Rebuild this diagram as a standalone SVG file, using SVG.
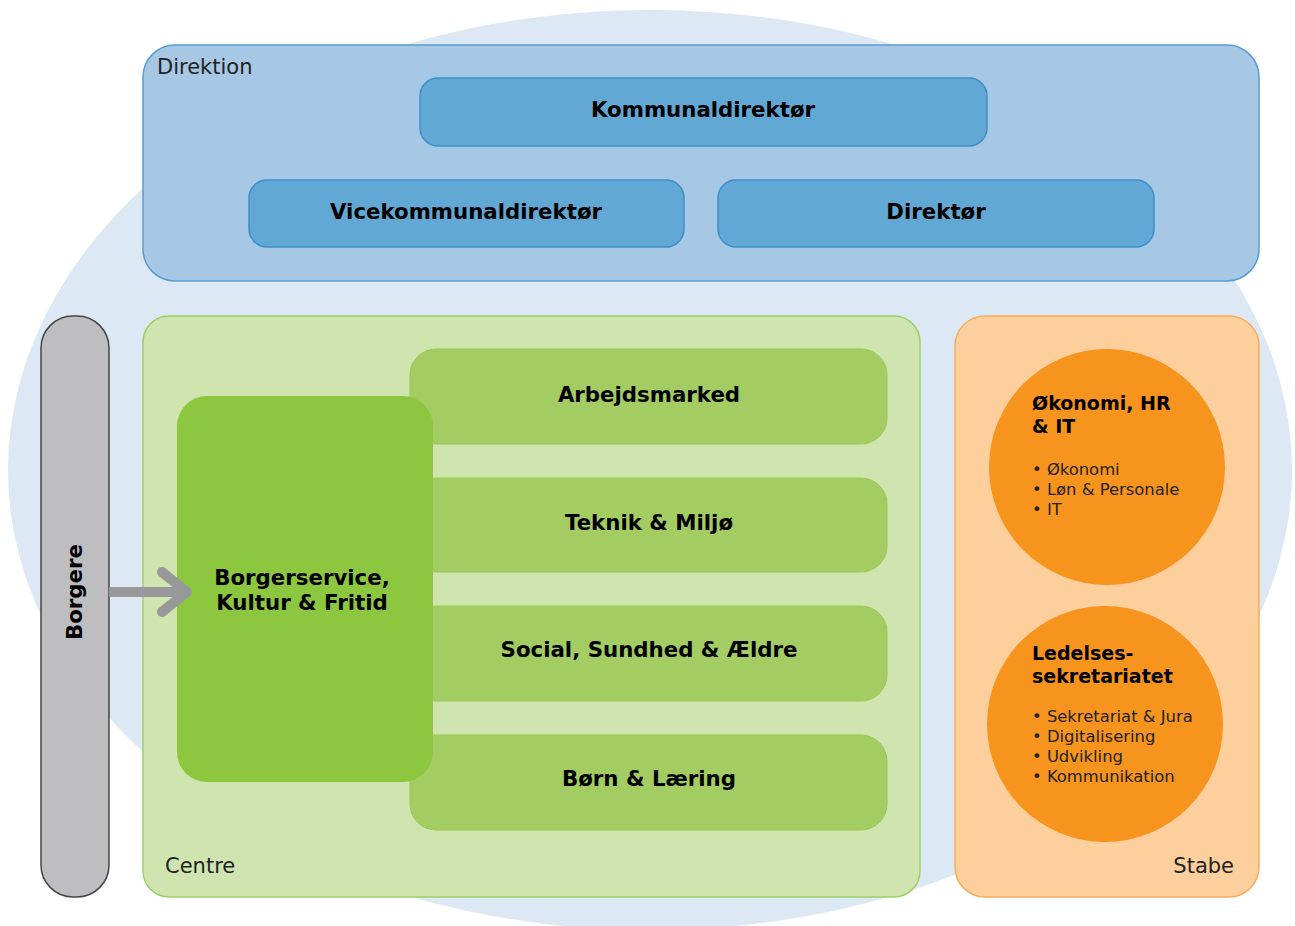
<svg xmlns="http://www.w3.org/2000/svg" width="1295" height="926" viewBox="0 0 1295 926">
<style>
text{font-family:"DejaVu Sans","Verdana",sans-serif;fill:#000}
.h{font-size:21.3px;font-weight:bold;text-anchor:middle}
.lbl{font-size:21px;fill:#222}
.dir{fill:#62a8d5;stroke:#3e8ec8;stroke-width:1.5}
.grn{fill:#a3cd62;stroke:#98c857;stroke-width:1}
.circ{fill:#f7941d}
.ct{font-size:19px;font-weight:bold}
.bl{font-size:16.4px;fill:#222}
</style>
<rect width="1295" height="926" fill="#fff"/>
<ellipse cx="650" cy="470" rx="642" ry="460" fill="#dce8f4"/>
<g id="direktion">
<rect x="143" y="45" width="1116" height="236" rx="32" fill="#a6c8e4" stroke="#5a9ccf" stroke-width="1.5"/>
<text class="lbl" x="157" y="74">Direktion</text>
</g>
<g id="kommunaldirektor">
<rect class="dir" x="420" y="78" width="567" height="68" rx="18"/>
<text class="h" x="703" y="117">Kommunaldirektør</text>
</g>
<g id="vicekommunaldirektor">
<rect class="dir" x="249" y="180" width="435" height="67" rx="18"/>
<text class="h" x="466" y="219">Vicekommunaldirektør</text>
</g>
<g id="direktor">
<rect class="dir" x="718" y="180" width="436" height="67" rx="18"/>
<text class="h" x="936" y="219">Direktør</text>
</g>
<g id="borgere">
<rect x="41" y="316" width="68" height="581" rx="32" fill="#bebec0" stroke="#444" stroke-width="1.5"/>
<text class="h" transform="translate(82,592) rotate(-90)" x="0" y="0">Borgere</text>
</g>
<g id="centre">
<rect x="143" y="316" width="777" height="581" rx="26" fill="#cfe4ae" stroke="#9fcf66" stroke-width="1.5"/>
<text class="lbl" x="165" y="873">Centre</text>
</g>
<g id="arbejdsmarked">
<rect class="grn" x="410" y="349" width="477" height="95" rx="26"/>
<text class="h" x="649" y="402">Arbejdsmarked</text>
</g>
<g id="teknik">
<rect class="grn" x="410" y="478" width="477" height="94" rx="26"/>
<text class="h" x="649" y="530">Teknik &amp; Miljø</text>
</g>
<g id="social">
<rect class="grn" x="410" y="606" width="477" height="95" rx="26"/>
<text class="h" x="649" y="657">Social, Sundhed &amp; Ældre</text>
</g>
<g id="born">
<rect class="grn" x="410" y="735" width="477" height="95" rx="26"/>
<text class="h" x="649" y="786">Børn &amp; Læring</text>
</g>
<g id="borgerservice">
<rect x="177" y="396" width="256" height="386" rx="30" fill="#8dc63f"/>
<text class="h" x="302" y="585">Borgerservice,</text>
<text class="h" x="302" y="610">Kultur &amp; Fritid</text>
</g>
<g id="stabe">
<rect x="955" y="316" width="304" height="581" rx="30" fill="#fdcf9c" stroke="#f5ad5c" stroke-width="1.5"/>
<text class="lbl" x="1234" y="873" text-anchor="end">Stabe</text>
</g>
<g id="okonomi">
<circle class="circ" cx="1107" cy="467" r="118"/>
<text class="ct" x="1032" y="410">Økonomi, HR</text>
<text class="ct" x="1032" y="433">&amp; IT</text>
<text class="bl" x="1032" y="475">• Økonomi</text>
<text class="bl" x="1032" y="495">• Løn &amp; Personale</text>
<text class="bl" x="1032" y="515">• IT</text>
</g>
<g id="ledelsessekretariatet">
<circle class="circ" cx="1105" cy="724" r="118"/>
<text class="ct" x="1032" y="660">Ledelses-</text>
<text class="ct" x="1032" y="683">sekretariatet</text>
<text class="bl" x="1032" y="722">• Sekretariat &amp; Jura</text>
<text class="bl" x="1032" y="742">• Digitalisering</text>
<text class="bl" x="1032" y="762">• Udvikling</text>
<text class="bl" x="1032" y="782">• Kommunikation</text>
</g>
<g id="connectors">
<line x1="109" y1="592" x2="186" y2="592" stroke="#98989a" stroke-width="10"/>
<polyline points="162,572 187,592 162,612" fill="none" stroke="#98989a" stroke-width="10" stroke-linecap="round" stroke-linejoin="round"/>
</g>
</svg>
